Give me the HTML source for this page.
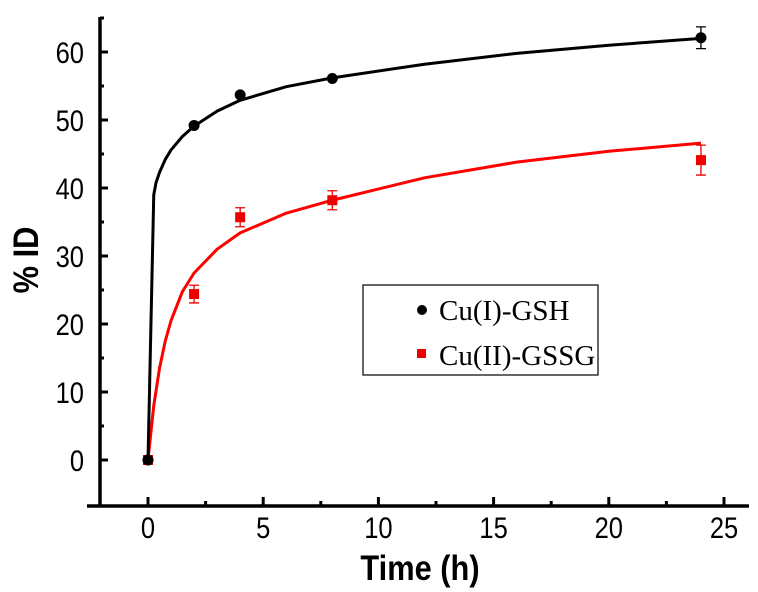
<!DOCTYPE html>
<html><head><meta charset="utf-8"><style>
html,body{margin:0;padding:0;background:#fff;}
svg{display:block;font-family:"Liberation Sans",Arial,sans-serif;}
</style></head><body>
<svg id="chart" width="758" height="592" viewBox="0 0 758 592">
<g id="axes"></g><g id="series"></g>
<g>
<rect x="363" y="285" width="235" height="90" fill="#fff" stroke="#000" stroke-width="1.2"/>
<circle cx="422" cy="310" r="5" fill="#000"/>
<text x="439" y="320" font-family="Liberation Serif,serif" font-size="29">Cu(I)-GSH</text>
<rect x="417" y="349" width="9" height="9" fill="#e00"/>
<text x="439" y="365" font-family="Liberation Serif,serif" font-size="29">Cu(II)-GSSG</text>
</g>
<text transform="translate(420,580) scale(0.88,1)" text-anchor="middle" font-size="35" font-weight="bold">Time (h)</text>
<text transform="translate(38,260) rotate(-90) scale(0.88,1)" text-anchor="middle" font-size="35" font-weight="bold">% ID</text>
</svg>
<script>
const xTicks=[0,5,10,15,20,25];
const yTicks=[0,10,20,30,40,50,60];
const times=[0,2,4,8,24];
const cu1Values=[0,49.2,53.7,56.1,62.1];
const cu1Errors=[0,0.5,0.5,0.5,1.6];
const cu2Values=[0,24.4,35.7,38.2,44.1];
const cu2Errors=[0,1.3,1.4,1.4,2.2];
const cu1FitT=[0,0.25,0.35,0.5,0.75,1,1.5,2,3,4,6,8,12,16,20,24];
const cu1FitY=[0,39,40.8,42.3,44.2,45.6,47.6,49.1,51.3,52.9,54.9,56.2,58.2,59.8,61,62];
const cu2FitT=[0,0.25,0.5,0.75,1,1.5,2,3,4,6,8,12,16,20,24];
const cu2FitY=[0,8,13.5,17.5,20.5,24.8,27.5,31,33.4,36.3,38.2,41.5,43.8,45.4,46.6];

const NS="http://www.w3.org/2000/svg";
const X=t=>148+t*23.04;
const Y=v=>460-v*6.8;
function mk(tag,attrs,parent){const e=document.createElementNS(NS,tag);for(const k in attrs)e.setAttribute(k,attrs[k]);parent.appendChild(e);return e;}
const ax=document.getElementById('axes'), se=document.getElementById('series');
let l=mk('line',{x1:100,y1:17,x2:100,y2:506,stroke:'#000','stroke-width':3.5},ax);


l=mk('line',{x1:87,y1:506,x2:749,y2:506,stroke:'#000','stroke-width':3.5},ax);


xTicks.forEach((t,i)=>{
  const tk=mk('line',{x1:X(t),y1:506,x2:X(t),y2:497,stroke:'#000','stroke-width':3},ax);
  
  
  if(i<xTicks.length-1){const m=mk('line',{x1:X(t+2.5),y1:506,x2:X(t+2.5),y2:501,stroke:'#000','stroke-width':3},ax);
  
  }
  const tx=mk('text',{transform:`translate(${X(t)},538) scale(0.85,1)`,'text-anchor':'middle','font-size':30},ax);tx.textContent=t;
  
  
});
yTicks.forEach(v=>{
  const tk=mk('line',{x1:100,y1:Y(v),x2:108,y2:Y(v),stroke:'#000','stroke-width':3},ax);
  
  
  const m=mk('line',{x1:100,y1:Y(v+5),x2:104,y2:Y(v+5),stroke:'#000','stroke-width':3},ax);
  
  
  const tx=mk('text',{transform:`translate(84,${Y(v)+11}) scale(0.85,1)`,'text-anchor':'end','font-size':30},ax);tx.textContent=v;
  
  
});
function poly(ts,ys){return ts.map((t,i)=>X(t)+','+Y(ys[i])).join(' ');}
let f=mk('polyline',{points:poly(cu2FitT,cu2FitY),fill:'none',stroke:'#f00','stroke-width':3,'stroke-linejoin':'round'},se);


f=mk('polyline',{points:poly(cu1FitT,cu1FitY),fill:'none',stroke:'#000','stroke-width':3,'stroke-linejoin':'round'},se);


function errbar(t,v,e,col){
  if(e<=0.6)return;const x=X(t);
  const g=mk('path',{d:`M${x},${Y(v+e)}V${Y(v-e)}M${x-5},${Y(v+e)}H${x+5}M${x-5},${Y(v-e)}H${x+5}`,stroke:col,'stroke-width':1.3,fill:'none'},se);
  
  
}
times.forEach((t,i)=>{
  errbar(t,cu2Values[i],cu2Errors[i],'#e00');
  const r=mk('rect',{x:X(t)-5,y:Y(cu2Values[i])-5,width:10,height:10,fill:'#e00'},se);
  
  
});
times.forEach((t,i)=>{
  errbar(t,cu1Values[i],cu1Errors[i],'#000');
  const c=mk('circle',{cx:X(t),cy:Y(cu1Values[i]),r:5.5,fill:'#000'},se);
  
  
});
</script>
</body></html>
